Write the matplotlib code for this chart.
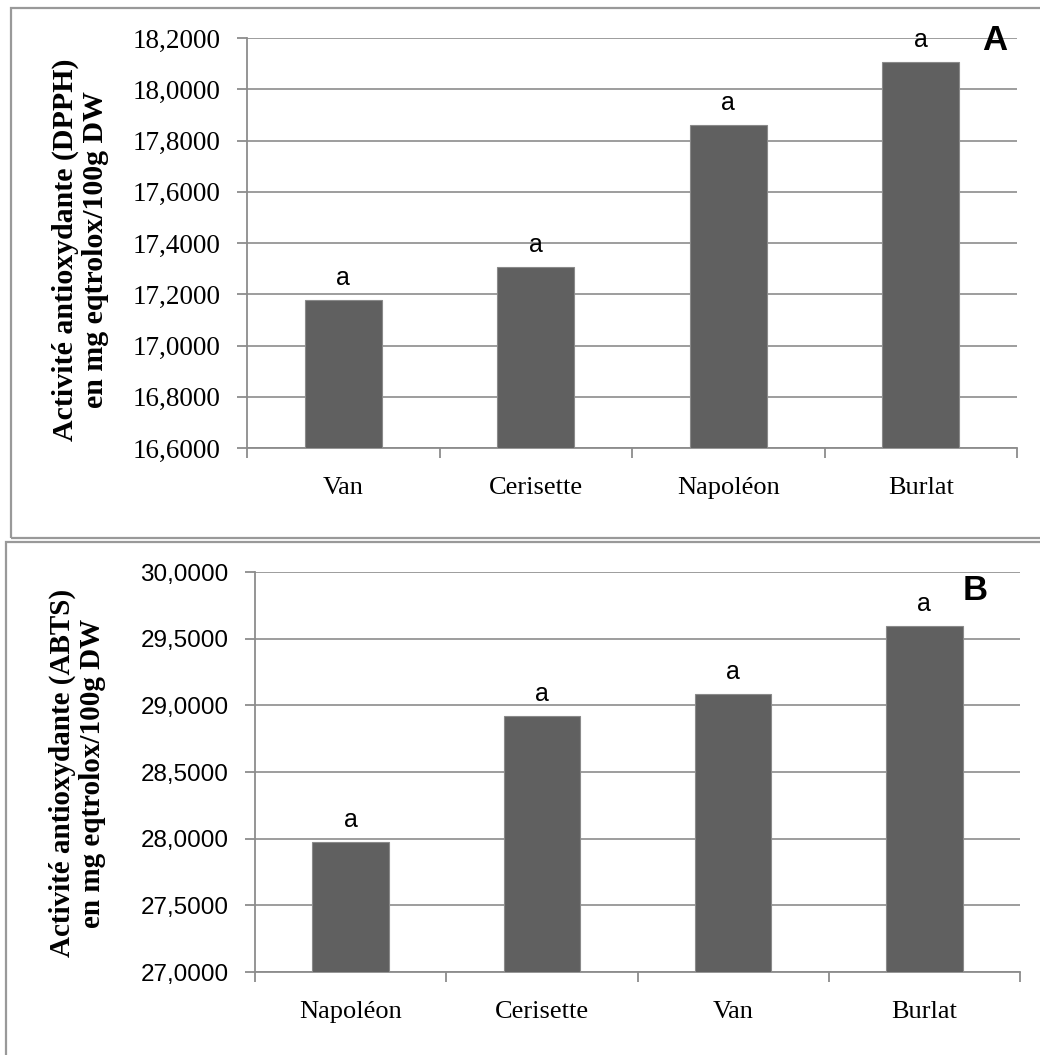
import numpy as np
import matplotlib
matplotlib.use("Agg")
import matplotlib.pyplot as plt
from matplotlib.patches import Rectangle
from matplotlib.ticker import FixedLocator, FuncFormatter

# panel A (DPPH)
cats_a = ["Van", "Cerisette", "Napoléon", "Burlat"]
vals_a = [17.178, 17.308, 17.862, 18.106]
letters_a = ["a", "a", "a", "a"]
ylim_a = (16.6, 18.2)
yticks_a = [16.6, 16.8, 17.0, 17.2, 17.4, 17.6, 17.8, 18.0, 18.2]
ylabel_a = "Activité antioxydante (DPPH)\nen mg eqtrolox/100g DW"

# panel B (ABTS)
cats_b = ["Napoléon", "Cerisette", "Van", "Burlat"]
vals_b = [27.975, 28.92, 29.085, 29.598]
letters_b = ["a", "a", "a", "a"]
ylim_b = (27.0, 30.0)
yticks_b = [27.0, 27.5, 28.0, 28.5, 29.0, 29.5, 30.0]
ylabel_b = "Activité antioxydante (ABTS)\nen mg eqtrolox/100g DW"

W, H = 1040, 1055
fig = plt.figure(figsize=(W / 100, H / 100), dpi=100)
gray = "#8c8c8c"


def px_axes(l, t, r, b):
    return fig.add_axes([l / W, 1 - b / H, (r - l) / W, (b - t) / H])


def draw(ax, cats, vals, letters, ylim, yticks, yfam, ysize):
    x = np.arange(len(cats))
    ax.bar(x, vals, width=0.4, color="#606060", edgecolor="#8a8a8a", linewidth=0.8, zorder=3)
    for xi, v, t in zip(x, vals, letters):
        ax.annotate(t, (xi, v), xytext=(0, 7), textcoords="offset points",
                    ha="center", va="bottom", fontsize=18, family="Liberation Sans")
    ax.set_xlim(-0.5, len(cats) - 0.5)
    ax.set_ylim(*ylim)
    ax.set_xticks(x)
    ax.set_xticklabels(cats, family="Liberation Serif", fontsize=19)
    ax.xaxis.set_minor_locator(FixedLocator(np.arange(len(cats) + 1) - 0.5))
    ax.tick_params(axis="x", which="major", length=0, pad=21)
    ax.tick_params(axis="x", which="minor", length=7, width=1.3, color=gray, direction="out")
    ax.yaxis.set_major_locator(FixedLocator(yticks))
    ax.yaxis.set_major_formatter(FuncFormatter(lambda v, p: f"{v:.4f}".replace(".", ",")))
    ax.tick_params(axis="y", length=7, width=1.3, color=gray, pad=12, labelsize=ysize)
    for lab in ax.get_yticklabels():
        lab.set_family(yfam)
    ax.grid(axis="y", color=gray, linewidth=1.2, zorder=0)
    ax.set_axisbelow(True)
    for s in ["top", "right"]:
        ax.spines[s].set_visible(False)
    for s in ["left", "bottom"]:
        ax.spines[s].set_color(gray)
        ax.spines[s].set_linewidth(1.3)


# panel borders
fig.patches.append(Rectangle((11 / W, 1 - 538 / H), 1.1, (538 - 8) / H, transform=fig.transFigure,
                             fill=False, edgecolor="#999999", linewidth=1.6, figure=fig))
fig.patches.append(Rectangle((6 / W, -0.1), 1.1, 0.1 + (H - 542) / H, transform=fig.transFigure,
                             fill=False, edgecolor="#999999", linewidth=1.6, figure=fig))

ax1 = px_axes(247, 38, 1017, 448)
draw(ax1, cats_a, vals_a, letters_a, ylim_a, yticks_a, "Liberation Serif", 19.5)
ax2 = px_axes(255, 572, 1020, 972)
draw(ax2, cats_b, vals_b, letters_b, ylim_b, yticks_b, "Liberation Sans", 17.5)

fig.text(80 / W, 1 - 250 / H, ylabel_a, rotation=90, ha="center", va="center",
         family="Liberation Serif", fontweight="bold", fontsize=21.5, linespacing=1.15)
fig.text(77 / W, 1 - 773 / H, ylabel_b, rotation=90, ha="center", va="center",
         family="Liberation Serif", fontweight="bold", fontsize=21, linespacing=1.15)

fig.text(995 / W, 1 - 41 / H, "A", ha="center", va="center", fontsize=25,
         fontweight="bold", family="Liberation Sans")
fig.text(975 / W, 1 - 591 / H, "B", ha="center", va="center", fontsize=25,
         fontweight="bold", family="Liberation Sans")

fig.savefig("out.png", dpi=100)
